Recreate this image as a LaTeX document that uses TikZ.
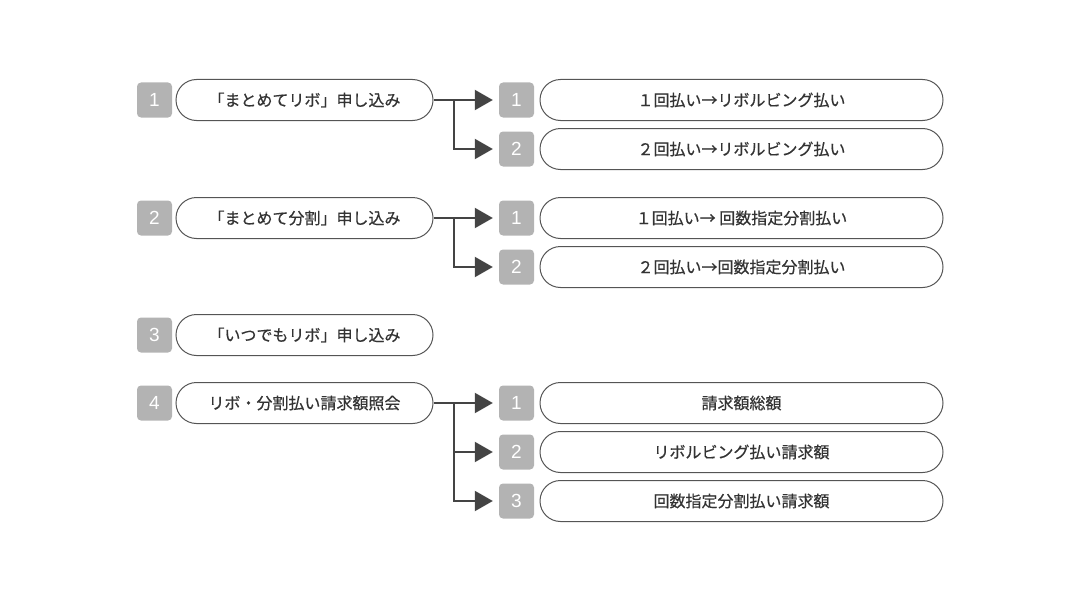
\documentclass[tikz,border=0pt]{standalone}
\usepackage{fontspec}
\setmainfont{Liberation Sans}
\newfontfamily\jpfont[FakeBold=0.6]{Noto Sans CJK JP}
\usetikzlibrary{arrows.meta}
\definecolor{badgegray}{HTML}{B3B3B3}
\definecolor{linegray}{HTML}{444444}
\definecolor{edgegray}{HTML}{555555}
\definecolor{textgray}{HTML}{333333}
\tikzset{
  badge/.style={fill=badgegray, rounded corners=4pt, minimum width=35pt, minimum height=35pt,
    inner sep=0pt, text=white, font=\fontsize{19}{19}\selectfont},
  mainpill/.style={draw=edgegray, line width=1pt, rounded corners=20.5pt, minimum width=257pt,
    minimum height=41pt, inner sep=0pt, text=textgray, font=\jpfont\fontsize{16}{16}\selectfont},
  subpill/.style={mainpill, minimum width=403pt},
  conn/.style={draw=linegray, line width=2pt},
  arr/.style={conn, -{Triangle[length=18pt,width=20pt]}},
}
\begin{document}
\begin{tikzpicture}[x=1pt,y=-1pt]
\useasboundingbox (0,0) rectangle (1079,602);
% main items
\node[badge] (n1) at (154.5,100) {1};
\node[mainpill] (m1) at (304.5,100) {「まとめてリボ」申し込み};
\node[badge] (n2) at (154.5,218) {2};
\node[mainpill] (m2) at (304.5,218) {「まとめて分割」申し込み};
\node[badge] (n3) at (154.5,335) {3};
\node[mainpill] (m3) at (304.5,335) {「いつでもリボ」申し込み};
\node[badge] (n4) at (154.5,403) {4};
\node[mainpill] (m4) at (304.5,403) {リボ・分割払い請求額照会};
% sub items group 1
\node[badge] (b11) at (516.5,100) {1};
\node[subpill] (s11) at (741.5,100) {１回払い→リボルビング払い};
\node[badge] (b12) at (516.5,149) {2};
\node[subpill] (s12) at (741.5,149) {２回払い→リボルビング払い};
% group 2
\node[badge] (b21) at (516.5,218) {1};
\node[subpill] (s21) at (741.5,218) {１回払い→ 回数指定分割払い};
\node[badge] (b22) at (516.5,267) {2};
\node[subpill] (s22) at (741.5,267) {２回払い→回数指定分割払い};
% group 4
\node[badge] (b41) at (516.5,403) {1};
\node[subpill] (s41) at (741.5,403) {請求額総額};
\node[badge] (b42) at (516.5,452) {2};
\node[subpill] (s42) at (741.5,452) {リボルビング払い請求額};
\node[badge] (b43) at (516.5,501) {3};
\node[subpill] (s43) at (741.5,501) {回数指定分割払い請求額};
% junctions
\coordinate (j1) at (454,100);
\coordinate (j2) at (454,218);
\coordinate (j4) at (454,403);
% connectors
\draw[arr] (m1.east) -- ([xshift=-6pt]b11.west);
\draw[arr] (j1) |- ([xshift=-6pt]b12.west);
\draw[arr] (m2.east) -- ([xshift=-6pt]b21.west);
\draw[arr] (j2) |- ([xshift=-6pt]b22.west);
\draw[arr] (m4.east) -- ([xshift=-6pt]b41.west);
\draw[arr] (j4) |- ([xshift=-6pt]b42.west);
\draw[arr] (j4) |- ([xshift=-6pt]b43.west);
\end{tikzpicture}
\end{document}
